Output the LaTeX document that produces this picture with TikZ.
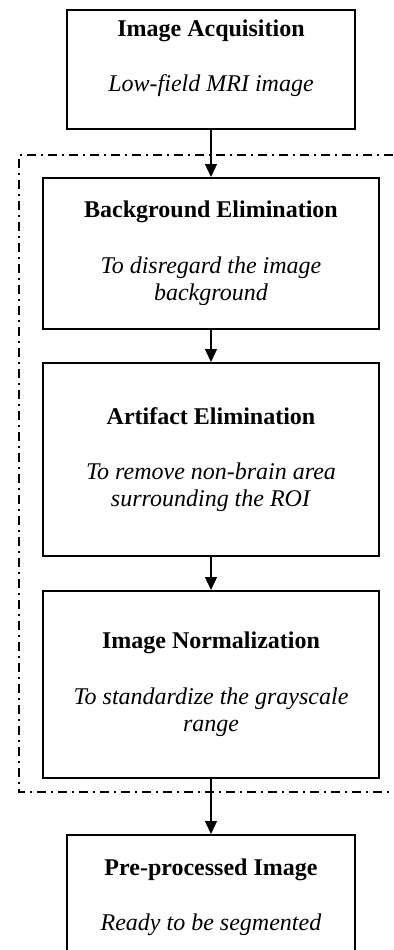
\documentclass[tikz,border=0pt]{standalone}
\usepackage{fontspec}
\setmainfont{Liberation Serif}
\usetikzlibrary{positioning, arrows.meta}

\begin{document}
\begin{tikzpicture}[font=\fontsize{12}{13.8}\selectfont,
		stage/.style = {draw, line width=1pt, align=center, minimum width=168pt},
		flow/.style = {-{Triangle[length=6.5pt, width=6pt]}, line width=0.6pt},
		frame/.style = {line width=0.7pt, dash pattern=on 4.5pt off 2.5pt on 1pt off 2.5pt}]
		\useasboundingbox (0,0) rectangle (196.5pt,-475pt);
		
		\node[stage, minimum width=144pt, minimum height=59.5pt, anchor=north] (acq) at (105.5pt,-4.5pt) {\textbf{Image Acquisition}\\[13.8pt]\textit{Low-field MRI image}\\};
		\node[stage, minimum height=75.5pt] (bg) [below=23.5pt of acq] {\textbf{Background Elimination}\\[13.8pt]\textit{To disregard the image}\\\textit{background}};
		\node[stage, minimum height=96.5pt] (art) [below=16pt of bg] {\textbf{Artifact Elimination}\\[13.8pt]\textit{To remove non-brain area}\\\textit{surrounding the ROI}};
		\node[stage, minimum height=93.5pt] (norm) [below=16.5pt of art] {\textbf{Image Normalization}\\[13.8pt]\textit{To standardize the grayscale}\\\textit{range}};
		\node[stage, minimum width=144pt, minimum height=62pt] (pre) [below=27.5pt of norm] {\textbf{Pre-processed Image}\\[13.8pt]\textit{Ready to be segmented}};
		
		% pre-processing stage
		\draw[frame] (196.5pt,-77.5pt) -- (9.5pt,-77.5pt) -- (9.5pt,-396pt) -- (196.5pt,-396pt);
		
		\draw[flow] (acq) -- (bg);
		\draw[flow] (bg) -- (art);
		\draw[flow] (art) -- (norm);
		\draw[flow] (norm) -- (pre);
	\end{tikzpicture}
\end{document}
